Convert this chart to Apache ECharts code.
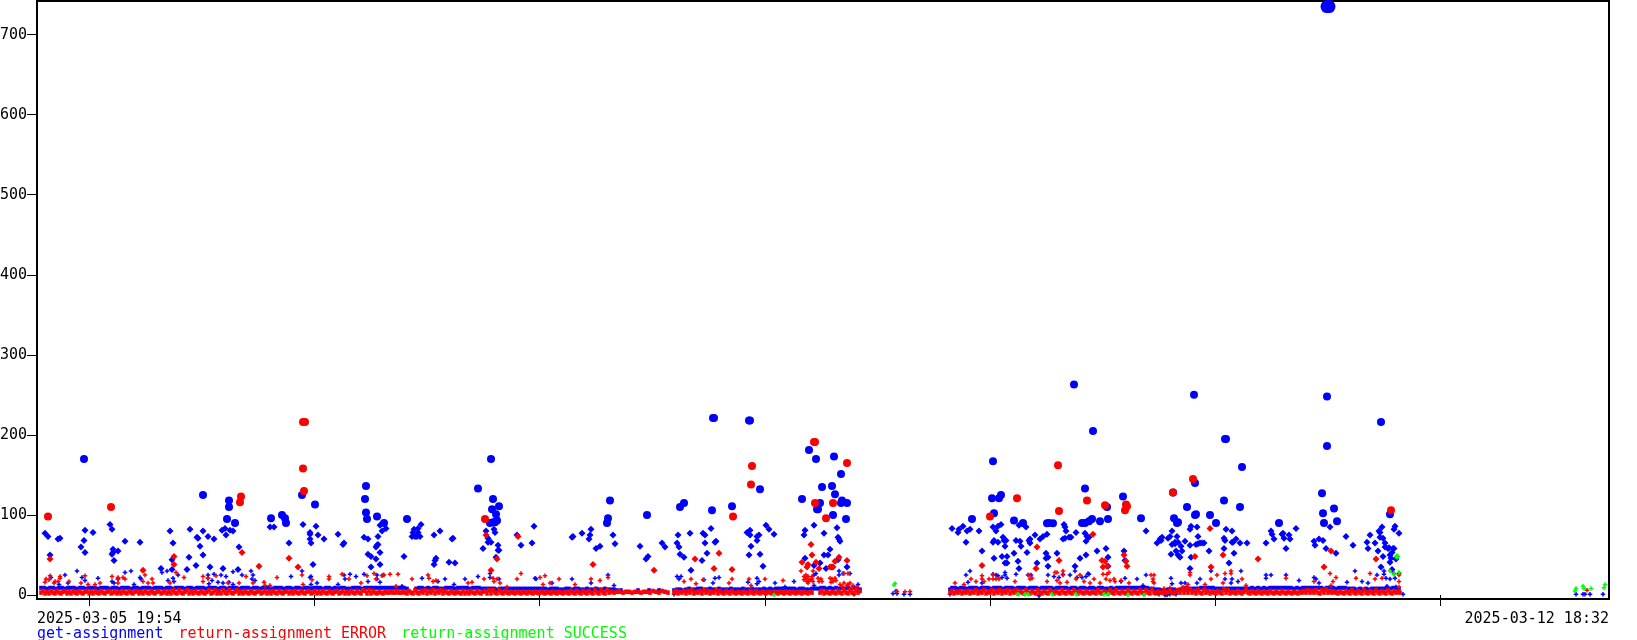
<!DOCTYPE html>
<html><head><meta charset="utf-8">
<script src="https://cdn.jsdelivr.net/npm/echarts@6/dist/echarts.min.js"></script>
<style>html,body{margin:0;padding:0;background:#fff}#c{width:1637px;height:640px}</style>
</head><body><div id="c"></div>
<script>
// x = time bin since the start of the window (one bin is about 6.4 minutes), y = value. Flat lists: x,y,x,y...
const seriesNames = ['get-assignment','return-assignment ERROR','return-assignment SUCCESS'];
const xLabelBins = [0,1572];
const xLabelTexts = ['2025-03-05 19:54','2025-03-12 18:32'];
const xTickBins = [52,277,502,728,953,1178,1403];
const yTicks = [0,100,200,300,400,500,600,700];

const blueBase1 = [4,9,7,9,10,8,13,9,16,9,19,8,22,9,25,9,28,8,31,9,34,9,37,9,40,8,43,9,46,9,49,8,52,9,55,9,58,9,61,8,64,9,67,9,70,9,73,8,76,9,79,9,82,8,85,9,88,9,91,9,94,8,97,9,100,9,103,8,106,9,109,9,112,9,115,8,118,9,121,9,124,9,127,8,130,9,133,9,136,8,139,9,142,9,145,9,148,8,151,9,154,9,157,8,160,9,163,9,166,9,169,8,172,9,175,9,178,9,181,8,184,9,187,9,190,8,193,9,196,9,199,9,202,8,205,9,208,9,211,9,214,8,217,9,220,9,223,8,226,9,229,9,232,9,235,8,238,9,241,9,244,9,247,8,250,9,253,9,256,8,259,9,262,9,265,8,268,9,271,9,274,8,277,9,280,9,283,9,286,8,289,9,292,9,295,8,298,9,301,8,304,9,307,9,310,8,313,8,316,9,319,9,322,9,325,8,328,9,331,9,334,9,337,9,340,9,343,9,346,9,349,9,352,9,355,9,358,9,361,9,364,9,367,9,370,8,379,8,382,9,385,9,388,8,391,9,394,8,397,9,400,9,403,8,406,8,409,9,412,9,415,9,418,8,421,9,424,9,427,9,430,9,433,8,436,9,439,9,442,9,445,8,448,8,451,8,454,8,457,8,460,7,463,8,466,8,469,8,472,8,475,8,478,8,481,8,484,8,487,8,490,8,493,8,496,8,499,8,502,8,505,8,508,8,511,7,514,8,517,8,520,8,523,7,526,7,529,8,532,8,535,7,538,8,541,8,544,7,547,7,550,8,553,7,556,7,559,8,562,7,565,7,568,8,571,7,574,7,577,7,580,6,584,6,601,6,612,6,622,6];
const blueBase2 = [637,6,640,7,643,7,646,6,649,7,652,8,655,7,658,7,661,8,664,8,667,7,670,7,673,8,676,7,679,7,682,8,685,7,688,7,691,7,694,8,697,7,700,7,703,7,706,8,709,7,712,7,715,8,718,7,721,7,724,7,727,8,730,7,733,8,736,7,739,8,742,8,745,8,748,8,751,8,754,8,757,8,760,7,763,8,766,8,769,7,772,7,775,8,778,8,781,8,784,9,787,9,790,8,793,9,796,8,799,9,802,8,805,9,808,8,811,9,814,8,817,9,820,8,823,7];
const blueBase3 = [913,7,915,9,918,9,921,8,924,9,927,9,930,8,933,9,936,9,939,9,942,8,945,9,948,9,951,9,954,8,957,9,960,9,963,9,966,8,969,9,972,9,975,9,978,8,981,9,984,9,987,9,990,8,993,9,996,9,999,9,1002,8,1005,9,1008,9,1011,9,1014,9,1017,8,1020,9,1023,9,1026,9,1029,9,1032,8,1035,9,1038,9,1041,8,1044,9,1047,9,1050,8,1053,9,1056,9,1059,8,1062,9,1065,9,1068,8,1071,8,1074,9,1077,8,1080,9,1083,9,1086,9,1089,9,1092,9,1095,9,1098,9,1101,9,1104,9,1107,9,1110,9,1113,8,1116,8,1119,7,1122,7,1125,6,1128,6,1131,7,1134,7,1137,7,1140,6,1143,7,1146,8,1149,9,1152,8,1155,8,1158,8,1161,8,1164,9,1167,9,1170,9,1173,9,1176,9,1179,8,1182,8,1185,8,1188,8,1191,8,1194,8,1197,8,1200,8,1203,8,1206,8,1209,8,1212,8,1215,9,1218,8,1221,9,1224,8,1227,9,1230,8,1233,9,1236,9,1239,9,1242,9,1245,9,1248,9,1251,9,1254,9,1257,8,1260,9,1263,8,1266,9,1269,9,1272,9,1275,9,1278,9,1281,9,1284,9,1287,8,1290,9,1293,9,1296,9,1299,8,1302,9,1305,9,1308,9,1311,8,1314,8,1317,8,1320,7,1323,8,1326,7,1329,8,1332,7,1335,8,1338,8,1341,8,1344,8,1347,8,1350,9,1353,8,1356,9,1359,9,1362,8];
const blueSparse = [856,2,859,5,860,2,867,1,873,1,1539,1,1546,1,1548,1,1553,1,1566,1,637,1,817,1,1002,-1,913,1,1128,0,1130,0,1133,1,1122,1,1139,1,1366,1];
const blueSmall = [40,30,28,25,14,22,45,22,48,18,61,21,88,28,94,30,75,17,81,20,77,15,125,28,130,30,131,18,136,21,137,17,141,25,171,25,175,18,177,26,184,25,189,23,196,29,214,30,216,25,215,20,218,18,254,23,181,16,196,13,103,22,104,20,97,13,31,15,22,13,171,21,172,14,186,15,192,16,205,25,
265,30,273,22,274,23,274,13,280,15,307,25,308,20,313,26,319,23,327,26,331,17,340,25,346,25,340,20,343,16,385,21,408,20,428,20,401,17,441,23,453,27,453,22,462,20,498,21,499,20,515,15,417,13,301,13,365,11,
535,20,571,25,640,23,644,23,642,20,654,31,667,19,682,22,678,21,676,15,720,21,711,16,722,17,738,15,757,17,802,30,813,27,806,27,802,25,777,25,779,27,821,13,577,12,554,15,748,10,720,14,777,12,
933,30,929,25,931,16,945,15,956,26,959,25,961,24,968,28,968,25,970,21,965,22,979,26,991,25,994,25,1011,25,1017,23,1022,22,1026,26,1033,25,1038,30,1040,22,1045,22,1049,23,1052,26,1051,27,1088,21,1100,20,1109,25,1084,17,1106,12,
1134,21,1135,14,1144,15,1148,15,1160,15,1163,20,1174,30,1188,20,1195,20,1204,30,1201,17,1194,15,1229,25,1229,21,1234,25,1249,25,1262,18,1277,22,1279,20,1282,15,1310,16,1318,30,1325,17,1331,15,1340,25,1349,21,1353,20,1358,21,1347,30,1347,26,1359,10,1362,27,1350,11];
const blueMedium = [8,77,11,73,13,50,21,70,23,71,48,81,47,68,44,60,48,53,56,78,73,88,75,82,76,57,76,53,75,51,81,55,77,43,88,67,103,66,133,80,136,65,124,33,135,44,135,32,152,47,153,82,160,72,161,71,163,61,166,80,166,50,171,73,177,70,159,37,150,32,173,35,186,33,201,32,185,81,188,83,189,75,193,81,196,80,202,60,233,85,237,85,252,65,
266,88,279,86,273,78,273,76,281,75,273,70,287,70,274,65,301,76,307,65,306,63,276,38,327,72,331,70,341,73,341,63,340,62,339,60,331,51,334,48,343,53,339,45,343,38,334,35,343,87,345,80,349,83,377,82,381,83,384,88,376,78,381,78,375,73,378,73,380,73,383,73,367,48,397,75,403,80,416,71,415,70,399,46,398,43,397,38,412,41,418,40,449,80,451,71,451,66,454,66,446,58,457,82,458,78,461,62,461,56,462,56,459,47,480,75,484,62,495,65,497,86,
535,72,536,73,545,77,554,82,553,75,552,70,559,58,563,61,576,75,578,64,603,61,611,48,609,45,625,65,628,60,641,75,640,65,642,60,643,51,647,47,653,77,666,77,668,75,668,65,670,52,665,43,674,83,678,66,679,67,710,78,713,81,713,75,720,73,722,75,720,68,714,61,712,50,723,51,726,36,729,87,732,82,737,76,768,81,767,75,777,87,787,77,800,84,801,72,802,70,803,67,793,57,787,50,791,50,768,46,801,44,810,35,777,37,783,40,789,33,795,35,
915,83,921,78,922,82,926,86,930,80,933,82,942,80,929,66,945,55,956,85,959,80,961,86,964,88,957,68,956,66,961,66,966,72,967,68,969,68,968,61,957,46,965,48,970,48,968,40,970,40,977,52,979,68,983,67,984,61,981,42,982,33,990,53,989,85,992,68,993,70,993,65,998,75,1003,70,1006,73,1010,76,1000,40,1009,52,1009,46,1011,47,1011,36,1020,52,1027,88,1028,85,1029,80,1026,70,1028,71,1032,72,1034,72,1039,78,1038,36,1043,46,1049,50,1048,77,1050,73,1052,72,1049,67,1060,55,1069,58,1071,47,1071,36,1087,55,1088,43,1109,80,1120,65,1123,70,1125,72,1124,68,1131,71,1133,73,1134,51,1135,63,1138,64,1140,73,1141,66,1139,55,1141,50,1135,80,
1138,66,1144,61,1148,67,1153,62,1159,63,1161,64,1163,65,1165,65,1167,65,1161,73,1160,85,1154,86,1153,82,1145,55,1143,47,1154,47,1153,33,1172,55,1189,82,1195,80,1187,71,1188,68,1187,58,1197,52,1192,40,1195,66,1199,70,1196,66,1203,65,1210,65,1229,65,1234,80,1235,76,1237,70,1245,76,1246,77,1247,71,1252,75,1253,70,1249,58,1259,83,1277,67,1278,62,1282,70,1286,68,1289,58,1293,85,1299,52,1309,73,1316,62,1330,66,1331,58,1333,75,1338,65,1341,55,1342,80,1343,78,1345,85,1346,71,1343,72,1348,65,1346,48,1348,60,1351,58,1352,59,1355,53,1356,58,1357,58,1353,50,1354,46,1353,41,1355,32,1344,35,1359,45,1357,82,1358,86,1362,77];
const blueLarge = [47,170,166,125,192,118,192,110,190,95,198,90,234,96,245,100,248,96,249,90,
265,125,278,113,329,136,328,120,329,103,330,95,340,98,347,90,370,95,454,170,441,133,456,120,455,107,462,111,459,101,460,93,456,91,453,90,458,91,
573,118,571,96,570,90,610,100,643,110,647,115,675,106,695,111,677,221,676,221,712,218,713,218,723,132,772,181,779,170,797,173,804,151,765,120,785,135,795,136,798,126,783,115,805,118,804,115,810,115,781,107,780,107,796,100,809,95,
1037,263,1056,205,956,167,1048,133,1086,123,955,121,962,121,964,125,957,102,935,95,977,93,982,87,986,90,1012,90,1010,89.5,1016,89.5,1045,90,1048,90,1052,92,1055,95,1063,92,1071,95,1070,110,1104,96,1137,96,1140,90,1136,128,
1157,250,1188,195,1189,195,1205,160,1290,248,1290,186,1344,216,1285,127,1286,102,1287,90,1297,108,1300,92,1242,90,1150,110,1158,140,1141,91,1158,100,1159,101,1173,100,1179,90,1187,118,1203,110,1353,101];
const blueOutlier = [1290,735,1292,735];

const redBase1 = [4,3,6,5,8,2,10,4,12,2,14,5,16,3,18,2,20,5,22,3,24,2,26,4,28,5,30,2,32,4,34,2,36,5,38,3,40,2,42,5,44,3,46,2,48,4,50,5,52,2,54,4,56,2,58,5,60,3,62,2,64,5,66,3,68,2,70,4,72,5,74,2,76,3,78,5,80,2,82,4,84,2,86,5,88,3,90,2,92,5,94,3,96,2,98,4,100,5,102,2,104,4,106,2,108,5,110,3,112,2,114,5,116,3,118,2,120,4,122,5,124,2,126,3,128,5,130,2,132,4,134,2,136,6,138,3,140,2,142,6,144,3,146,2,148,4,150,6,152,2,154,4,156,2,158,5,160,3,162,2,164,5,166,3,168,2,170,4,172,6,174,2,176,3,178,6,180,2,182,4,184,2,186,6,188,3,190,2,192,6,194,3,196,2,198,4,200,6,202,2,204,4,206,2,208,5,210,3,212,2,214,5,216,3,218,2,220,4,222,5,224,2,226,3,228,5,230,2,232,4,234,2,236,5,238,3,240,2,242,5,244,3,246,2,248,4,250,5,252,2,254,4,256,2,258,5,260,3,262,2,264,5,266,3,268,2,270,4,272,5,274,2,276,3,278,5,280,2,282,4,284,2,286,5,288,3,290,2,292,5,294,3,296,2,298,4,300,5,302,2,304,3,306,5,308,2,310,4,312,2,314,5,316,3,318,2,320,5,322,3,324,2,326,6,328,5,330,2,332,6,334,2,336,5,338,3,340,2,342,4,344,3,346,2,348,4,350,3,352,3,354,4,356,3,358,3,360,4,362,3,364,3,366,4,368,3,370,2,372,5,374,3,376,2,378,6,380,3,382,2,384,5,386,3,388,6,390,2,392,5,394,3,396,6,398,2,400,5,402,3,404,6,406,2,408,5,410,3,412,2,414,5,416,3,418,2,420,4,422,3,424,2,426,5,428,2,430,4,432,2,434,5,436,3,438,2,440,5,442,3,444,2,446,4,448,5,450,2,452,6,454,2,456,6,458,3,460,2,462,6,464,3,466,2,468,5,470,3,472,2,474,4,476,3,478,2,480,4,482,3,484,2,486,4,488,3,490,2,492,4,494,3,496,2,498,4,500,3,502,2,504,4,506,3,508,2,510,4,512,3,514,2,516,4,518,3,520,2,522,4,524,3,526,2,528,4,530,3,532,2,534,5,536,3,538,2,540,5,542,3,544,2,546,5,548,3,550,2,552,5,554,3,556,2,558,6,560,3,562,2,564,6,566,3,568,2,570,6,572,3,574,4,577,3,580,4,583,4,586,3,589,4,592,4,595,3,598,4,601,4,604,3,607,4,610,4,613,3,616,5,619,4,622,3,625,5,628,4,631,3];
const redBase2 = [637,3,639,5,641,2,643,4,645,3,647,5,649,2,651,5,653,3,655,6,657,2,659,4,661,3,663,5,665,2,667,6,669,3,671,5,673,2,675,4,677,3,679,6,681,2,683,5,685,3,687,2,689,5,691,3,693,2,695,5,697,3,699,2,701,4,703,3,705,2,707,4,709,3,711,2,713,5,715,3,717,2,719,5,721,3,723,2,725,4,727,3,729,2,731,4,733,3,735,2,737,4,739,3,741,2,743,4,745,3,747,2,749,4,751,3,753,2,755,4,757,3,759,2,761,4,763,3,765,2,767,4,769,3,771,2,773,4,775,3,783,3,785,5,787,2,789,4,791,3,793,2,795,4,797,3,799,2,801,5,803,3,805,2,807,6,809,3,811,2,813,6,815,3,817,2,819,6,821,3,823,5];
const redBase3 = [913,3,915,5,917,2,919,4,921,3,923,5,925,2,927,4,929,3,931,5,933,2,935,4,937,3,939,6,941,2,943,4,945,3,947,6,949,2,951,4,953,3,955,6,957,2,959,5,961,3,963,6,965,2,967,5,969,3,971,6,973,2,975,5,977,3,979,6,981,2,983,5,985,3,987,2,989,6,991,3,993,2,995,5,997,3,999,2,1001,6,1003,3,1005,2,1007,5,1009,3,1011,2,1013,6,1015,3,1017,2,1019,5,1021,3,1023,2,1025,6,1027,3,1029,2,1031,5,1033,3,1035,2,1037,6,1039,3,1041,2,1043,5,1045,3,1047,2,1049,5,1051,3,1053,2,1055,4,1057,3,1059,2,1061,6,1063,3,1065,2,1067,5,1069,3,1071,2,1073,6,1075,3,1077,2,1079,6,1081,3,1083,2,1085,5,1087,3,1089,2,1091,6,1093,3,1095,2,1097,5,1099,3,1101,2,1103,6,1105,3,1107,2,1109,6,1111,3,1113,2,1115,7,1117,3,1119,2,1121,4,1123,3,1125,3,1127,4,1129,3,1131,4,1133,5,1135,3,1137,2,1139,4,1141,6,1143,3,1145,7,1147,3,1149,6,1151,3,1153,7,1155,3,1157,5,1159,2,1161,6,1163,3,1165,2,1167,6,1169,3,1171,5,1173,2,1175,4,1177,3,1179,2,1181,5,1183,3,1185,2,1187,7,1189,3,1191,6,1193,2,1195,4,1197,3,1199,2,1201,5,1203,3,1205,2,1207,4,1209,6,1211,3,1213,2,1215,5,1217,3,1219,2,1221,5,1223,3,1225,2,1227,4,1229,3,1231,2,1233,5,1235,3,1237,2,1239,4,1241,3,1243,2,1245,5,1247,3,1249,2,1251,4,1253,3,1255,2,1257,4,1259,3,1261,2,1263,4,1265,3,1267,5,1269,3,1271,6,1273,3,1275,5,1277,3,1279,6,1281,3,1283,2,1285,6,1287,3,1289,7,1291,3,1293,5,1295,3,1297,4,1299,3,1301,2,1303,4,1305,3,1307,2,1309,5,1311,3,1313,2,1315,6,1317,3,1319,2,1321,5,1323,3,1325,2,1327,6,1329,3,1331,2,1333,5,1335,3,1337,2,1339,6,1341,3,1343,2,1345,5,1347,3,1349,2,1351,6,1353,3,1355,2,1357,5,1359,3,1361,4,1363,3];
const redSparse = [860,4.5,868,4,873,4.5,1550,6];
const redSmall = [13,24,9,20,8,16,12,19,23,23,23,21,18,17,21,17,17,15,32,17,48,24,44,15,51,13,58,13,63,15,75,23,81,22,81,20,86,22,88,20,81,15,106,31,108,25,106,17,111,15,115,20,116,15,139,28,147,22,133,15,166,23,166,17,171,21,179,24,191,15,202,15,209,23,216,15,227,16,228,12,240,22,233,12,
265,25,275,19,292,23,292,20,305,26,312,20,330,24,337,27,339,20,345,24,347,25,353,26,361,26,391,25,392,21,396,17,399,18,431,15,435,16,447,20,454,31,456,21,457,17,460,20,463,15,480,20,484,27,506,13,508,24,513,15,522,20,324,15,266,13,359,11,470,10,375,20,503,22,
767,23,771,23,767,19,770,17,773,19,775,20,771,15,781,21,784,20,795,20,794,16,798,21,782,17,769,21,769,25,772,18,776,17,775,23,793,21,796,17,799,18,785,17,
538,13,554,20,563,18,571,22,647,17,654,20,659,14,666,19,692,15,695,20,712,20,714,12,728,20,746,18,764,30,776,30,807,27,811,27,807,15,813,15,810,12,816,12,820,10,803,13,805,11,811,13,815,9,
918,15,927,13,934,20,939,17,945,24,945,20,947,17,952,20,956,20,959,20,962,20,956,25,978,17,992,25,993,20,995,21,1010,17,1018,28,1020,28,1020,18,1026,30,1026,25,1023,15,1030,16,1039,20,1043,25,1047,17,1053,15,1057,20,1063,15,1069,20,1070,26,1072,28,1066,26,1073,18,1077,20,1078,17,1084,18,1092,15,1114,25,1117,25,1116,20,1117,15,1116,17,1127,8,1133,9,
1153,28,1153,25,1151,13,1174,20,1180,25,1194,30,1194,27,1205,20,1188,27,1209,12,1249,21,1277,17,1293,27,1296,17,1299,22,1294,12,1319,21,1333,27,1338,20,1345,21,1357,27,1362,25,1362,17,1362,10,1186,15,1168,13,1146,10,1150,10];
const redMedium = [13,45,137,48,137,38,205,53,222,36,252,46,261,35,449,75,481,73,460,45,
556,38,617,31,658,45,682,52,677,33,695,32,774,63,775,50,765,41,771,38,770,35,779,41,782,33,810,43,802,47,798,42,796,35,793,35,
945,37,1000,60,999,33,1022,43,1056,76,1065,43,1068,42,1066,35,1070,36,1087,50,1089,42,1090,36,
1173,83,1158,48,1186,50,1221,45,1174,35,1294,55,1287,35,1339,45];
const redLarge = [11,98,74,110,204,123,203,116,266,216,268,216,266,158,267,130,448,95,
777,191,778,191,715,161,714,138,696,98,810,165,778,115,796,115,789,96,
1021,162,1022,105,980,121,953,98,1050,118,1068,112,1089,113,1090,111,1088,106,1136,128,1156,145,1354,106];

const greenPoints = [737,0,858,14.5,857,12.5,981,1,988,1,991,1,1015,1,1039,1,1067,1,1071,1,1091,0,1107,0,1360,48,1353,30,1357,26,1362,28,1539,8,1538,5,1546,11,1547,8,1554,8,1568,13,1567,9];

function pairs(){const out=[];for(const l of arguments){for(let i=0;i<l.length;i+=2)out.push([l[i],l[i+1]]);}return out;}
const PLUS='path://M1 0H2V1H3V2H2V3H1V2H0V1H1Z';
const symbolOf=v=>v[1]<31?PLUS:(v[1]<89.5?'diamond':'circle');
const sizeOf=v=>v[1]>=500?13:(v[1]>=89.5?8:(v[1]>=31?7:4.5));
const mono='"DejaVu Sans Mono", monospace';
const mk=(name,color,data,symbol,size)=>({name,type:'scatter',data,symbol:symbol||symbolOf,symbolSize:size||sizeOf,itemStyle:{color,opacity:1},emphasis:{disabled:true},silent:true,clip:false,animation:false});

const chart=echarts.init(document.getElementById('c'),null,{renderer:'canvas'});
chart.setOption({
  animation:false,
  backgroundColor:'#fff',
  grid:{left:37,right:28,top:1,bottom:41,outerBoundsMode:'none',containLabel:false,show:true,borderColor:'#000',borderWidth:2,backgroundColor:'transparent'},
  legend:{left:32,top:627,icon:'rect',itemWidth:0,itemHeight:0,itemGap:10,selectedMode:false,padding:0,
    textStyle:{fontFamily:mono,fontSize:15},
    data:[{name:seriesNames[0],textStyle:{color:'#0000ff'}},{name:seriesNames[1],textStyle:{color:'#ff0000'}},{name:seriesNames[2],textStyle:{color:'#00ff00'}}]},
  xAxis:{type:'value',min:0,max:1572,splitLine:{show:false},axisLine:{show:false},
    axisTick:{show:true,length:11,inside:false,customValues:xTickBins,lineStyle:{color:'#000',width:1}},
    axisLabel:{show:true,margin:13,customValues:xLabelBins,alignMinLabel:'left',alignMaxLabel:'right',
      color:'#000',fontFamily:mono,fontSize:15,formatter:v=>xLabelTexts[xLabelBins.indexOf(v)]}},
  yAxis:{type:'value',min:-5,max:742,splitLine:{show:false},axisLine:{show:false},
    axisTick:{show:true,length:10,customValues:yTicks,lineStyle:{color:'#000',width:1}},
    axisLabel:{show:true,margin:10,customValues:yTicks,color:'#000',fontFamily:mono,fontSize:15}},
  series:[
    mk(seriesNames[0],'#0000ff',pairs(blueBase1,blueBase2,blueBase3),'rect',[3.6,4]),
    mk(seriesNames[0],'#0000ff',pairs(blueSparse,blueSmall,blueMedium,blueLarge,blueOutlier)),
    mk(seriesNames[1],'#ff0000',pairs(redBase1,redBase2,redBase3),'rect',[3.6,4.6]),
    mk(seriesNames[1],'#ff0000',pairs(redSparse,redSmall,redMedium,redLarge)),
    mk(seriesNames[2],'#00ff00',pairs(greenPoints))
  ]
});
</script></body></html>
